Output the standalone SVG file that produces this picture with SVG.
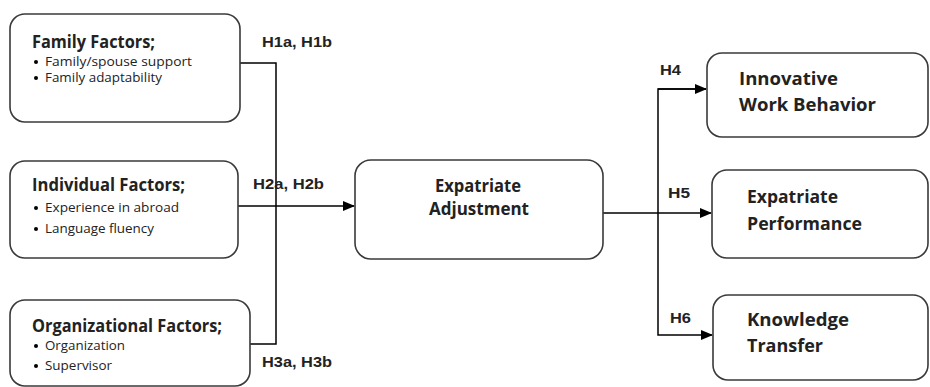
<svg xmlns="http://www.w3.org/2000/svg" width="930" height="387" viewBox="0 0 930 387">
<defs>
<marker id="arr" markerWidth="12" markerHeight="10" refX="11" refY="5" orient="auto" markerUnits="userSpaceOnUse">
<path d="M0,0 L12,5 L0,10 Z" fill="#000"/>
</marker>
<style>
.box{fill:#fff;stroke:#3a3a3a;stroke-width:1.6}
.head{font-family:"Open Sans","Noto Sans",sans-serif;font-weight:bold;font-size:17px;fill:#222}
.big{font-family:"Open Sans","Noto Sans",sans-serif;font-weight:bold;font-size:18px;fill:#222}
.item{font-family:"Open Sans","Noto Sans",sans-serif;font-size:12px;fill:#222}
.lab{font-family:"Liberation Sans",Arial,sans-serif;font-weight:bold;font-size:15px;fill:#222}
.ln{fill:none;stroke:#000;stroke-width:1.5}
</style>
</defs>
<rect width="930" height="387" fill="#fff"/>
<g id="connectors">
<path class="ln" d="M240,63 H276 V344 H250"/>
<path class="ln" d="M238,206 H354" marker-end="url(#arr)"/>
<path class="ln" d="M603,213 H711" marker-end="url(#arr)"/>
<path class="ln" d="M706,89 H658 V335 H712" marker-end="url(#arr)"/>
<path class="ln" d="M658,89 H706" marker-end="url(#arr)"/>
<text class="lab" x="262" y="47" textLength="70" lengthAdjust="spacingAndGlyphs">H1a, H1b</text>
<text class="lab" x="253" y="189" textLength="71" lengthAdjust="spacingAndGlyphs">H2a, H2b</text>
<text class="lab" x="262" y="367" textLength="70" lengthAdjust="spacingAndGlyphs">H3a, H3b</text>
<text class="lab" x="660" y="75" textLength="21" lengthAdjust="spacingAndGlyphs">H4</text>
<text class="lab" x="668" y="198" textLength="22" lengthAdjust="spacingAndGlyphs">H5</text>
<text class="lab" x="670" y="323" textLength="21" lengthAdjust="spacingAndGlyphs">H6</text>
</g>
<g id="family">
<rect class="box" x="10" y="14" width="230" height="108" rx="15"/>
<text class="head" x="32" y="48" textLength="123" lengthAdjust="spacingAndGlyphs">Family Factors;</text>
<circle cx="36" cy="62" r="2"/>
<text class="item" x="45" y="66" textLength="147" lengthAdjust="spacingAndGlyphs">Family/spouse support</text>
<circle cx="36" cy="78" r="2"/>
<text class="item" x="45" y="82" textLength="117" lengthAdjust="spacingAndGlyphs">Family adaptability</text>
</g>
<g id="individual">
<rect class="box" x="10" y="161" width="228" height="97" rx="15"/>
<text class="head" x="32" y="191" textLength="153" lengthAdjust="spacingAndGlyphs">Individual Factors;</text>
<circle cx="36" cy="208" r="2"/>
<text class="item" x="45" y="212" textLength="134" lengthAdjust="spacingAndGlyphs">Experience in abroad</text>
<circle cx="36" cy="229" r="2"/>
<text class="item" x="45" y="233" textLength="109" lengthAdjust="spacingAndGlyphs">Language fluency</text>
</g>
<g id="organizational">
<rect class="box" x="10" y="300" width="240" height="86" rx="15"/>
<text class="head" x="32" y="332" textLength="190" lengthAdjust="spacingAndGlyphs">Organizational Factors;</text>
<circle cx="36" cy="346" r="2"/>
<text class="item" x="45" y="350" textLength="80" lengthAdjust="spacingAndGlyphs">Organization</text>
<circle cx="36" cy="366" r="2"/>
<text class="item" x="45" y="370" textLength="67" lengthAdjust="spacingAndGlyphs">Supervisor</text>
</g>
<g id="adjustment">
<rect class="box" x="355" y="160" width="248" height="99" rx="16"/>
<text class="head" x="435" y="192" textLength="86" lengthAdjust="spacingAndGlyphs">Expatriate</text>
<text class="head" x="429" y="215" textLength="100" lengthAdjust="spacingAndGlyphs">Adjustment</text>
</g>
<g id="innovative">
<rect class="box" x="707" y="53" width="221" height="84" rx="15"/>
<text class="big" x="739" y="85" textLength="99" lengthAdjust="spacingAndGlyphs">Innovative</text>
<text class="big" x="739" y="111" textLength="137" lengthAdjust="spacingAndGlyphs">Work Behavior</text>
</g>
<g id="performance">
<rect class="box" x="712" y="170" width="216" height="88" rx="15"/>
<text class="big" x="747" y="203" textLength="91" lengthAdjust="spacingAndGlyphs">Expatriate</text>
<text class="big" x="747" y="230" textLength="115" lengthAdjust="spacingAndGlyphs">Performance</text>
</g>
<g id="knowledge">
<rect class="box" x="713" y="295" width="215" height="85" rx="15"/>
<text class="big" x="747" y="326" textLength="102" lengthAdjust="spacingAndGlyphs">Knowledge</text>
<text class="big" x="747" y="352" textLength="76" lengthAdjust="spacingAndGlyphs">Transfer</text>
</g>
</svg>
